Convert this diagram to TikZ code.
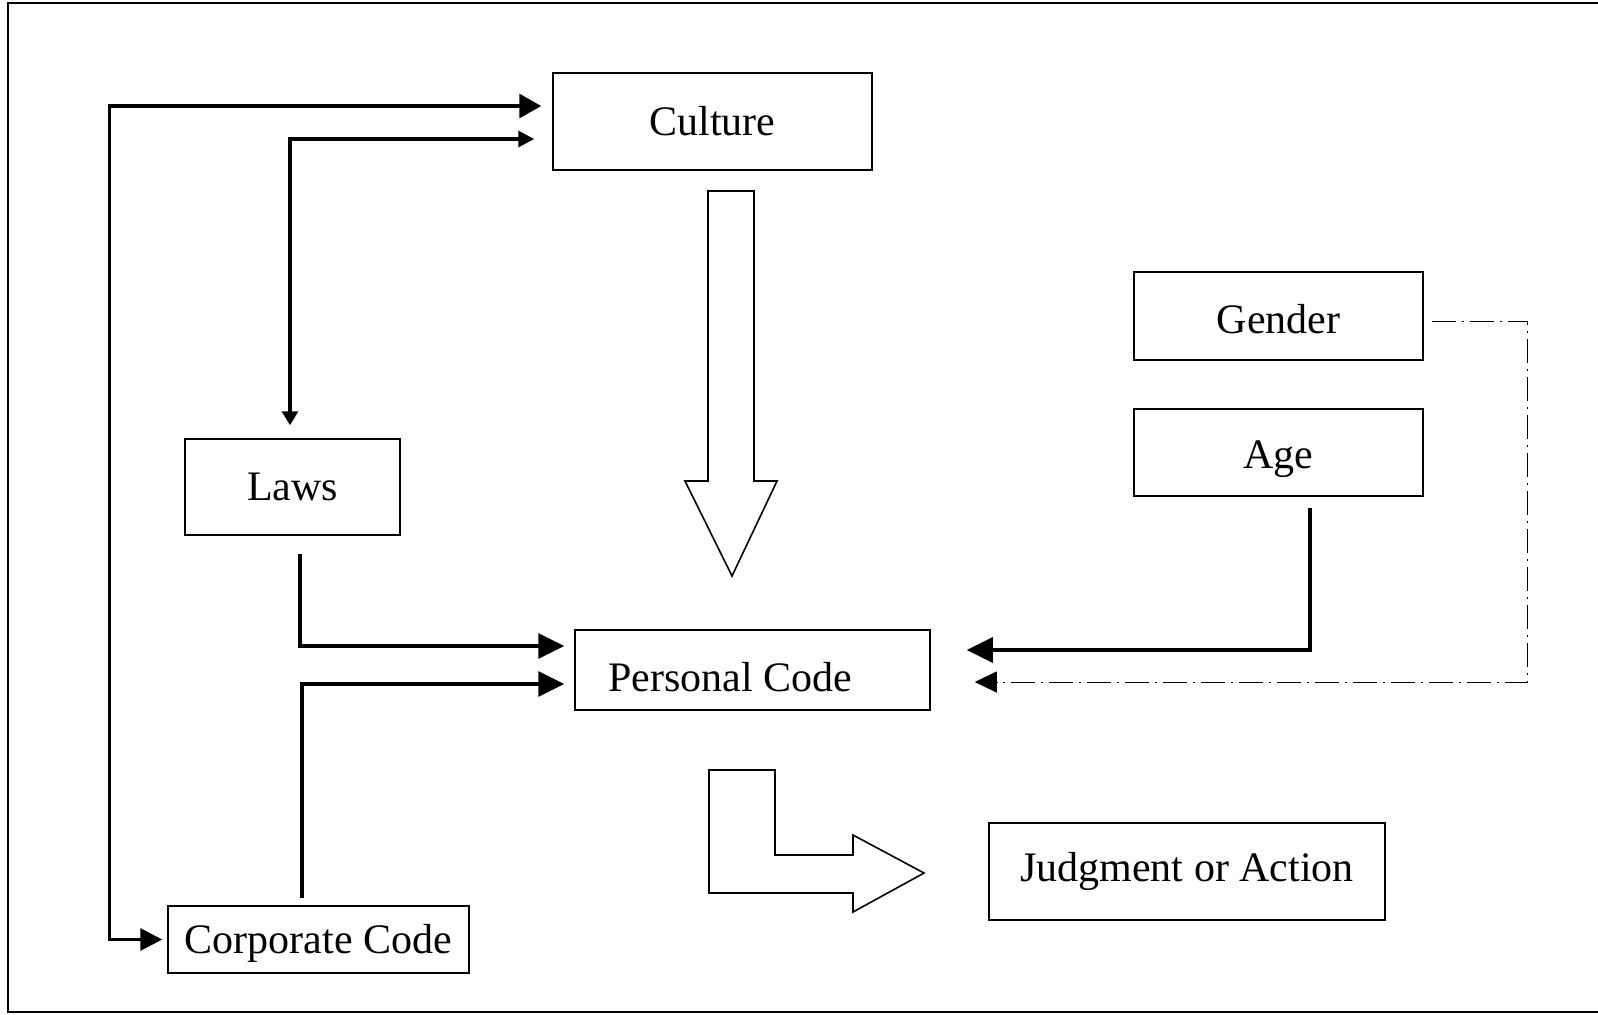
\documentclass[tikz,border=0pt]{standalone}
\usepackage{fontspec}
\setmainfont{Liberation Serif}
\usetikzlibrary{arrows.meta, calc}

\begin{document}
\begin{tikzpicture}[x=0.5pt, y=-0.5pt]

\tikzset{box/.style = {draw, line width=0.75pt, inner sep=0pt, font=\fontsize{21}{25}\selectfont}}
\tikzset{edge/.style = {line width=1.6pt, -{Triangle[length=13pt, width=12.5pt]}}}
\tikzset{thinedge/.style = {line width=1.6pt, {Triangle[length=8pt, width=8pt]}-{Triangle[length=7pt, width=8pt]}}}
\tikzset{dashdot/.style = {line width=0.5pt, dash pattern=on 12pt off 3pt on 1pt off 3pt, -{Triangle[length=11pt, width=10.5pt]}}}
\tikzset{block/.style = {draw, line width=0.8pt, line join=miter}}

\useasboundingbox (0,0) rectangle (1598,1014);
%frame
\draw[line width=0.7pt] (1598,3) -- (8,3) -- (8,1012) -- (1598,1012);

%boxes
\node[box, minimum width=159.5pt, minimum height=48.5pt] (culture) at (712.5,121.5) {Culture};
\node[box, minimum width=107.5pt, minimum height=48pt] (laws) at (292.5,487) {Laws};
\node[box, minimum width=177.5pt, minimum height=40pt, text height=21.5pt] (personal) at (752.5,670) {\hspace*{-22pt}Personal Code};
\node[box, minimum width=150.5pt, minimum height=33.5pt, text height=18.5pt] (corp) at (318.5,939.5) {Corporate Code};
\node[box, minimum width=198pt, minimum height=48.5pt] (judgment) at (1187,871.5) {Judgment or Action};
\node[box, minimum width=144.5pt, minimum height=44pt, text height=17.5pt] (gender) at (1278.5,316) {Gender};
\node[box, minimum width=144.5pt, minimum height=43.5pt, text height=21pt] (age) at (1278.5,452.5) {Age};

%block arrows
\draw[block] (708,191) -- (754,191) -- (754,481) -- (777,481) -- (732,576) -- (685,481) -- (708,481) -- cycle;
\draw[block] (709,770) -- (775,770) -- (775,855) -- (853,855) -- (853,835) -- (924,873) -- (853,912) -- (853,893) -- (709,893) -- cycle;

%edges
\draw[edge, {Triangle[length=11pt, width=12pt]}-{Triangle[length=11pt, width=11pt]}] ($(culture.west)+(-11,-15.5)$) -| ($(corp.west)+(-58,0)$) -- ($(corp.west)+(-5,0)$);
\draw[thinedge] ($(culture.west)+(-18,17.5)$) -| ($(laws.north)+(-2.5,-13)$);
\draw[edge] ($(laws.south)+(7.5,18)$) |- ($(personal.west)+(-10,-24)$);
\draw[edge] ($(corp.north)+(-16.5,-7)$) |- ($(personal.west)+(-10,14)$);
\draw[edge] ($(age.south)+(31.5,11)$) |- ($(personal.east)+(36,-20)$);
\draw[dashdot] ($(gender.east)+(8,5)$) -- ++(96,0) |- ($(personal.east)+(44,12)$);

\end{tikzpicture}
\end{document}
